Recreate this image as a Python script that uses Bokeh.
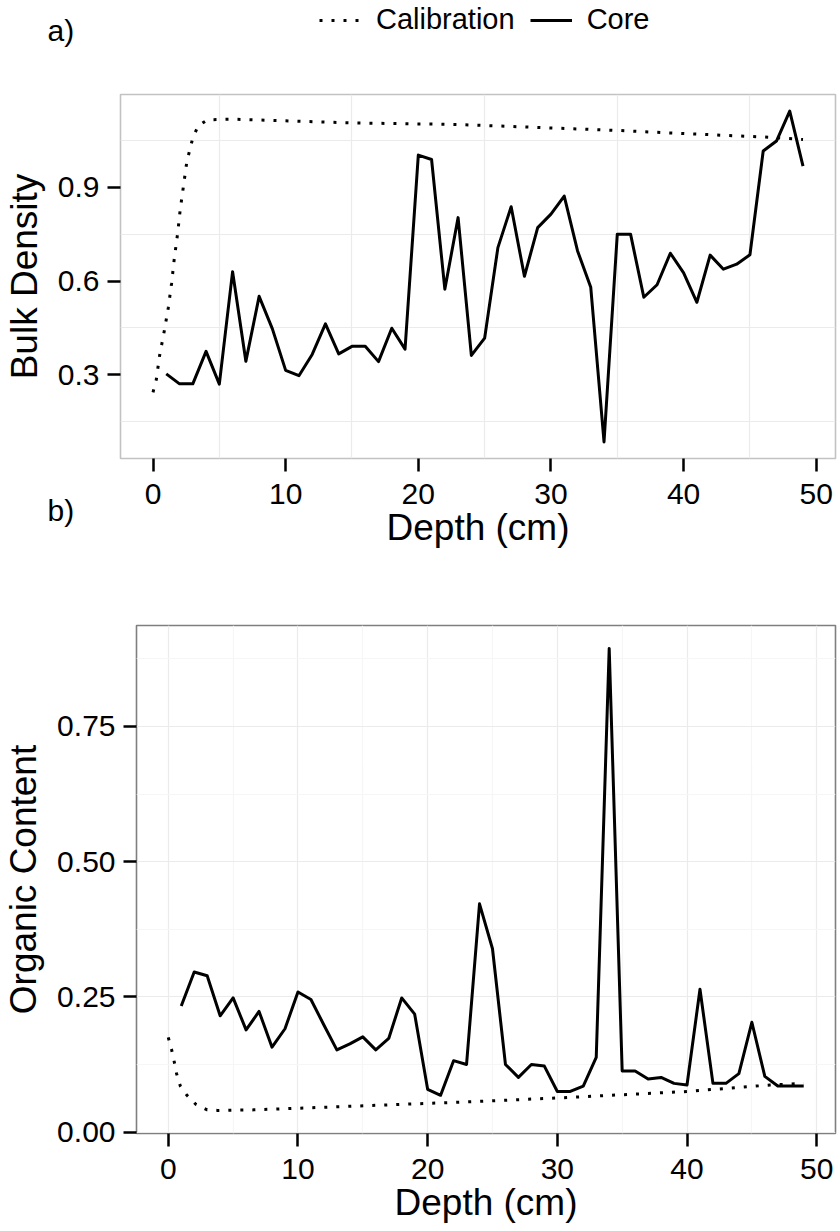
from bokeh.plotting import figure
from bokeh.models import Range1d, FixedTicker, Legend, LegendItem
from bokeh.core.properties import value
from bokeh.embed import file_html
from bokeh.resources import INLINE

# ---------------- data ----------------
core_depth = [1, 2, 3, 4, 5, 6, 7, 8, 9, 10,
              11, 12, 13, 14, 15, 16, 17, 18, 19, 20,
              21, 22, 23, 24, 25, 26, 27, 28, 29, 30,
              31, 32, 33, 34, 35, 36, 37, 38, 39, 40,
              41, 42, 43, 44, 45, 46, 47, 48, 49]
core_bulk = [0.303, 0.271, 0.271, 0.375, 0.270, 0.630, 0.343, 0.551, 0.447, 0.314,
             0.297, 0.365, 0.463, 0.367, 0.391, 0.391, 0.342, 0.449, 0.382, 1.003,
             0.989, 0.574, 0.803, 0.362, 0.417, 0.707, 0.838, 0.615, 0.771, 0.814,
             0.872, 0.697, 0.580, 0.085, 0.750, 0.750, 0.548, 0.588, 0.689, 0.626,
             0.532, 0.683, 0.638, 0.654, 0.684, 1.016, 1.048, 1.144, 0.968]
core_org = [0.233, 0.296, 0.289, 0.215, 0.248, 0.189, 0.223, 0.157, 0.191, 0.259,
            0.245, 0.198, 0.152, 0.163, 0.176, 0.152, 0.173, 0.248, 0.218, 0.079,
            0.068, 0.132, 0.125, 0.422, 0.339, 0.125, 0.101, 0.125, 0.122, 0.075,
            0.075, 0.085, 0.138, 0.894, 0.113, 0.113, 0.098, 0.101, 0.090, 0.087,
            0.264, 0.090, 0.090, 0.108, 0.203, 0.103, 0.085, 0.085, 0.085]

cal_bulk_depth = [0, 0.25, 0.5, 0.85, 1.15, 1.4, 1.6, 1.85, 2.05, 2.3, 2.55, 3.0, 3.4,
                  4.1, 6, 15, 23, 35, 40, 46, 49]
cal_bulk = [0.244, 0.285, 0.362, 0.440, 0.514, 0.592, 0.670, 0.750, 0.828, 0.905,
            0.982, 1.058, 1.096, 1.116, 1.118, 1.106, 1.101, 1.082, 1.072, 1.061, 1.053]

cal_org_depth = [0, 0.26, 0.46, 0.64, 0.93, 1.44, 2.14, 3.0, 3.8, 6.6, 10, 20, 23.3,
                 30, 40, 46.4, 49]
cal_org = [0.175, 0.152, 0.130, 0.108, 0.085, 0.068, 0.051, 0.041, 0.040, 0.041,
           0.044, 0.053, 0.056, 0.063, 0.075, 0.087, 0.090]

x_ticks = [0, 10, 20, 30, 40, 50]
x_minor = [5, 15, 25, 35, 45]
bulk_ticks = [0.3, 0.6, 0.9]
bulk_minor = [0.15, 0.45, 0.75, 1.05]
org_ticks = [0, 0.25, 0.5, 0.75]
org_minor = [0.125, 0.375, 0.625, 0.875]
org_tick_labels = ["0.00", "0.25", "0.50", "0.75"]
series_names = ["Calibration", "Core"]
panel_tags = ["a)", "b)"]

FONT = "Liberation Sans"
TICK_SIZE = "30px"
TITLE_SIZE = "37px"
LW = 3
DOT = "3 9"
W = 840
NAN = float("nan")


def style_axes(p):
    for ax in (p.xaxis[0], p.yaxis[0]):
        ax.axis_line_color = None
        ax.major_tick_out = 13
        ax.major_tick_in = 0
        ax.minor_tick_out = 0
        ax.minor_tick_in = 0
        ax.major_tick_line_width = 2.5
        ax.major_tick_line_color = "black"
        ax.major_label_text_font = FONT
        ax.major_label_text_font_size = TICK_SIZE
        ax.major_label_text_color = "black"
        ax.axis_label_text_font = FONT
        ax.axis_label_text_font_size = TITLE_SIZE
        ax.axis_label_text_font_style = "normal"
        ax.axis_label_text_color = "black"
    p.xaxis[0].major_label_standoff = 12
    p.yaxis[0].major_label_standoff = 8
    p.xaxis[0].axis_label_standoff = 0
    p.yaxis[0].axis_label_standoff = 10


def band(height, margin):
    """Transparent full-frame strip used only for the panel tags / legend."""
    b = figure(width=W, height=height, output_backend="svg", toolbar_location=None,
               x_axis_type=None, y_axis_type=None,
               x_range=Range1d(0, W), y_range=Range1d(height, 0),
               min_border=0, margin=margin)
    b.outline_line_color = None
    b.background_fill_alpha = 0
    b.border_fill_alpha = 0
    b.grid.visible = False
    return b


def tag(b, text, x, y):
    b.text(x=[x], y=[y], text=[text], text_font=value(FONT),
           text_font_size="30px", text_color="black",
           text_align="left", text_baseline="middle")


# ---------------- header strip: "a)" + legend ----------------
HH = 60
head = band(HH, (0, 0, 0, 0))
tag(head, panel_tags[0], 47, 30)
lg_cal = head.line([NAN], [NAN], line_color="black", line_width=LW, line_dash=DOT,
                   line_cap="butt")
lg_core = head.line([NAN], [NAN], line_color="black", line_width=LW)
legend = Legend(items=[LegendItem(label=series_names[0], renderers=[lg_cal]),
                       LegendItem(label=series_names[1], renderers=[lg_core])],
                orientation="horizontal", location=(319, HH - 36),
                glyph_width=42, glyph_height=30, label_standoff=15, spacing=15,
                padding=0, margin=0, border_line_color=None,
                background_fill_alpha=0,
                label_text_font=FONT, label_text_font_size="29px",
                label_text_color="black", label_height=30)
head.add_layout(legend, "center")

# ---------------- panel a ----------------
HA = 590 - HH
pa = figure(width=W, height=HA, output_backend="svg", toolbar_location=None,
            x_range=Range1d(-2.45, 51.45), y_range=Range1d(0.032, 1.197),
            min_border_left=118, min_border_right=5, min_border_top=94 - HH,
            min_border_bottom=590 - 458)
pa.xaxis.ticker = FixedTicker(ticks=x_ticks, minor_ticks=x_minor)
pa.yaxis.ticker = FixedTicker(ticks=bulk_ticks, minor_ticks=bulk_minor)
pa.xaxis.axis_label = "Depth (cm)"
pa.yaxis.axis_label = "Bulk Density"
style_axes(pa)
pa.xgrid.grid_line_color = None
pa.ygrid.grid_line_color = None
pa.xgrid.minor_grid_line_color = "#EBEBEB"
pa.ygrid.minor_grid_line_color = "#EBEBEB"
pa.xgrid.minor_grid_line_width = 1.2
pa.ygrid.minor_grid_line_width = 1.2
pa.outline_line_color = "#C2C2C2"
pa.outline_line_width = 1.6
pa.background_fill_color = "white"
pa.border_fill_color = "white"

pa.line(cal_bulk_depth, cal_bulk, line_color="black", line_width=LW,
        line_dash=DOT, line_cap="butt", line_join="round")
pa.line(core_depth, core_bulk, line_color="black", line_width=LW, line_join="round")

# ---------------- "b)" strip, overlapping the bottom of panel a ----------------
TB_TOP, TB_H = 480, 60
tagb = band(TB_H, (TB_TOP - 590, 0, 590 - TB_TOP - TB_H, 0))
tag(tagb, panel_tags[1], 47, 510 - TB_TOP)

# ---------------- panel b ----------------
HB = 1231 - 590
pb = figure(width=W, height=HB, output_backend="svg", toolbar_location=None,
            x_range=Range1d(-2.45, 51.45), y_range=Range1d(-0.0027, 0.9367),
            min_border_left=136, min_border_right=5, min_border_top=625 - 590,
            min_border_bottom=1231 - 1133)
pb.xaxis.ticker = FixedTicker(ticks=x_ticks, minor_ticks=x_minor)
pb.yaxis.ticker = FixedTicker(ticks=org_ticks, minor_ticks=org_minor)
pb.yaxis.major_label_overrides = {t: s for t, s in zip(org_ticks, org_tick_labels)}
pb.xaxis.axis_label = "Depth (cm)"
pb.yaxis.axis_label = "Organic Content"
style_axes(pb)
pb.xgrid.grid_line_color = "#EBEBEB"
pb.ygrid.grid_line_color = "#EBEBEB"
pb.xgrid.grid_line_width = 1.2
pb.ygrid.grid_line_width = 1.2
pb.xgrid.minor_grid_line_color = "#F6F6F6"
pb.ygrid.minor_grid_line_color = "#F6F6F6"
pb.xgrid.minor_grid_line_width = 1.2
pb.ygrid.minor_grid_line_width = 1.2
pb.outline_line_color = "#7F7F7F"
pb.outline_line_width = 1.6
pb.background_fill_color = "white"
pb.border_fill_color = "white"

pb.line(cal_org_depth, cal_org, line_color="black", line_width=LW,
        line_dash=DOT, line_cap="butt", line_join="round")
pb.line(core_depth, core_org, line_color="black", line_width=LW, line_join="round")

open("out.html", "w").write(file_html([head, pa, tagb, pb], INLINE))
